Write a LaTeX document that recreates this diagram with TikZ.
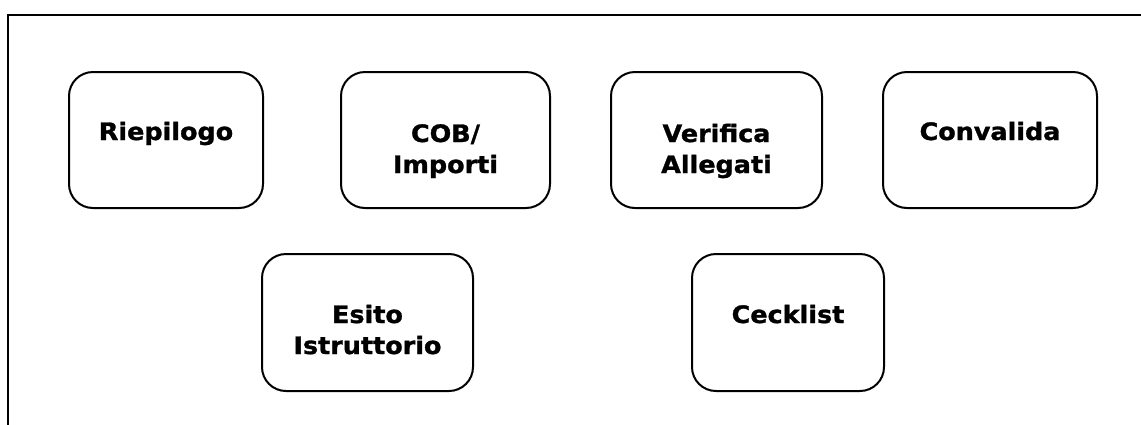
\documentclass[tikz,border=0pt]{standalone}
\usepackage{fontspec}
\setmainfont{DejaVu Sans}
\newfontfamily\vfont{DejaVu Sans Bold}[FakeStretch=1.06,FakeBold=1.2]
\begin{document}
\begin{tikzpicture}[x=1pt,y=-1pt,
  box/.style={draw=black, line width=2pt, rounded corners=24pt, fill=white, inner sep=0pt},
  lbl/.style={font=\fontsize{24}{31}\vfont, align=center, anchor=base, inner sep=0pt},
  frame/.style={draw=black, line width=1.5pt}]
\useasboundingbox (0,0) rectangle (1141,424);
\clip (0,0) rectangle (1141,424);
\fill[white] (0,0) rectangle (1141,424);
\coordinate (fa) at (8,440);
\coordinate (fb) at (8,15);
\coordinate (fc) at (1160,15);
\draw[frame] (fa) -- (fb) -- (fc);
% boxes
\node[box, minimum width=194pt, minimum height=136pt] (riep) at (166,140) {};
\node[box, minimum width=209pt, minimum height=136pt] (cob) at (445.5,140) {};
\node[box, minimum width=211pt, minimum height=136pt] (ver) at (716.5,140) {};
\node[box, minimum width=214pt, minimum height=136pt] (conv) at (990,140) {};
\node[box, minimum width=211pt, minimum height=137pt] (esito) at (367.5,322.5) {};
\node[box, minimum width=192pt, minimum height=137pt] (ceck) at (788,322.5) {};
% labels
\node[lbl] (triep) at (166,140) {Riepilogo};
\node[lbl] (tcob) at (445.5,142) {COB/};
\node[lbl] (tcob2) at (445.5,173) {Importi};
\node[lbl] (tver) at (716.5,142) {Verifica};
\node[lbl] (tver2) at (716.5,173) {Allegati};
\node[lbl] (tconv) at (990,140) {Convalida};
\node[lbl] (tesito) at (367.5,323) {Esito};
\node[lbl] (tesito2) at (367.5,354) {Istruttorio};
\node[lbl] (tceck) at (788,323) {Cecklist};
\end{tikzpicture}
\end{document}
